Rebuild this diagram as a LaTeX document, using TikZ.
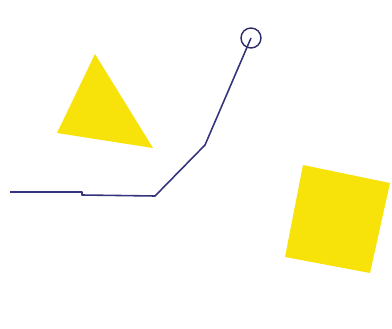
\documentclass[tikz,border=0pt]{standalone}
\usepackage{tikz}
\usetikzlibrary{positioning}
\definecolor{shapeyellow}{RGB}{247,226,10}
\definecolor{penblue}{RGB}{52,52,125}

\begin{document}
\begin{tikzpicture}[x=0.02cm, y=-0.02cm,
    solid shape/.style={fill=shapeyellow, draw=none},
    pen line/.style={draw=penblue, line width=0.9pt, line join=round},
    ring/.style={circle, draw=penblue!80!black, line width=0.8pt, minimum size=0.4cm, inner sep=0pt}
]
    % canvas
    \useasboundingbox (0,0) rectangle (392,328);

    % yellow triangle and tilted square
    \fill[solid shape] (95,54) -- (153,148) -- (57,133) -- cycle;
    \fill[solid shape] (303,165) -- (390,183) -- (370,273) -- (285,257) -- cycle;

    % ring at the top end of the line
    \node[ring] (knob) at (251,38) {};
    \coordinate (bendA) at (205,145);
    \coordinate (bendB) at (155,196);
    \coordinate (stepR) at (82,195);
    \coordinate (stepL) at (82,192);
    \coordinate (lineend) at (10,192);

    % the bent line
    \draw[pen line] (knob.center) -- (bendA) -- (bendB) -- (stepR) -- (stepL) -- (lineend);
\end{tikzpicture}
\end{document}
